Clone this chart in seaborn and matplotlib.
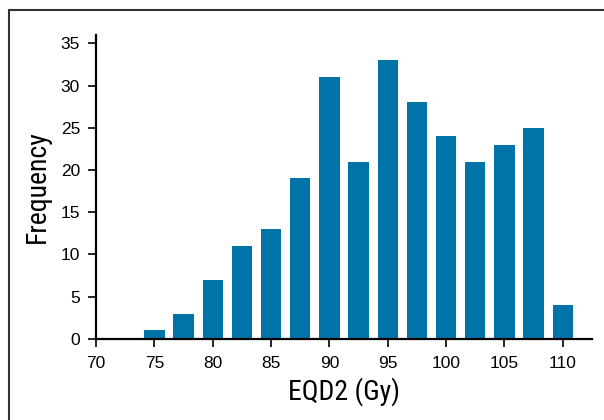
import matplotlib
matplotlib.use("Agg")
import matplotlib.pyplot as plt
from matplotlib import font_manager
from matplotlib.lines import Line2D
import seaborn as sns

# bin centres (Gy) and counts
eqd2 = [75, 77.5, 80, 82.5, 85, 87.5, 90, 92.5, 95, 97.5, 100, 102.5, 105, 107.5, 110]
counts = [1, 3, 7, 11, 13, 19, 31, 21, 33, 28, 24, 21, 23, 25, 4]
xticks = [70, 75, 80, 85, 90, 95, 100, 105, 110]
yticks = [0, 5, 10, 15, 20, 25, 30, 35]

sns.set_style("ticks")
names = {f.name for f in font_manager.fontManager.ttflist}
label_font = "Roboto"
for cand in ["Roboto Condensed", "Liberation Sans Narrow", "Open Sans Condensed"]:
    if cand in names:
        label_font = cand
        break
plt.rcParams["font.family"] = ["Liberation Sans", "DejaVu Sans"]
plt.rcParams["text.color"] = "black"
plt.rcParams["axes.labelcolor"] = "black"
plt.rcParams["xtick.color"] = "black"
plt.rcParams["ytick.color"] = "black"

fig = plt.figure(figsize=(6.04, 4.20), dpi=100)
ax = fig.add_axes([0.159, 0.193, 0.821, 0.724])

sns.barplot(x=eqd2, y=counts, native_scale=True, width=0.7,
            color="#0074a8", saturation=1, linewidth=0, ax=ax)

ax.set_xlim(70, 112.5)
ax.set_ylim(0, 36)
ax.set_xticks(xticks)
ax.set_yticks(yticks)
ax.tick_params(labelsize=12.5, length=6, width=1.2, color="black", labelcolor="black")
ax.tick_params(axis="x", pad=6.5)
ax.tick_params(axis="y", pad=5.5)
sns.despine(ax=ax)
for s in ["left", "bottom"]:
    ax.spines[s].set_linewidth(1.6)
    ax.spines[s].set_color("black")

ax.set_xlabel("EQD2 (Gy)", fontsize=20, family=label_font, labelpad=4, color="black")
ax.set_ylabel("Frequency", fontsize=20, family=label_font, labelpad=7, color="black")

# frame lines on the top and left of the figure
fig.add_artist(Line2D([9 / 604, 1], [1 - 10 / 420, 1 - 10 / 420], color="#333333", lw=1.5, transform=fig.transFigure))
fig.add_artist(Line2D([9 / 604, 9 / 604], [0, 1 - 10 / 420], color="#333333", lw=1.5, transform=fig.transFigure))

fig.savefig("out.png", dpi=100)
